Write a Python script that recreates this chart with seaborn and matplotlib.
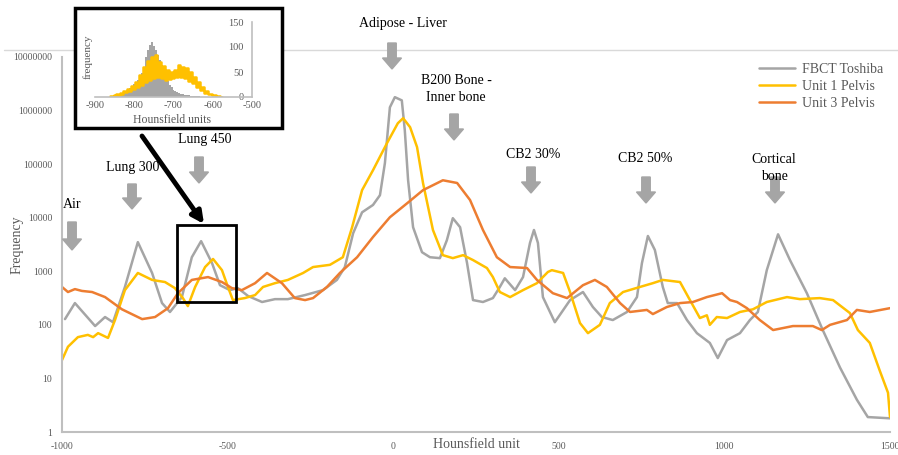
import matplotlib
matplotlib.use("Agg")
import matplotlib.pyplot as plt
import seaborn as sns
from matplotlib.patches import Rectangle, FancyArrow
from matplotlib.lines import Line2D

# main chart, HU vs frequency
gray_hu = [-991, -961, -900, -870, -846, -810, -771, -728, -698, -674, -638, -608, -580, -547,
           -523, -493, -469, -438, -396, -357, -318, -266, -212, -170, -146, -121, -94, -61, -40,
           -25, -10, 5, 26, 35, 45, 60, 87, 111, 141, 162, 180, 202, 223, 241, 271, 301, 322, 337,
           368, 392, 413, 425, 437, 452, 488, 534, 573, 603, 630, 663, 706, 736, 751, 769, 790,
           814, 829, 857, 887, 917, 956, 980, 1008, 1047, 1077, 1101, 1128, 1162, 1198, 1249,
           1297, 1349, 1400, 1433, 1500]
gray_freq = [128, 255, 95, 140, 112, 510, 3500, 930, 255, 174, 330, 1830, 3650, 1420, 550, 445,
             485, 345, 267, 302, 302, 360, 445, 690, 1200, 5130, 12600, 17300, 26300, 105000,
             1150000, 1780000, 1550000, 430000, 50000, 6650, 2270, 1830, 1760, 3800, 9800, 6650,
             1420, 290, 267, 316, 510, 740, 445, 780, 3380, 5900, 3380, 330, 112, 290, 410, 215,
             140, 123, 174, 330, 1420, 4560, 2500, 510, 255, 255, 123, 70, 46, 24, 52, 70, 123,
             174, 1050, 4900, 1620, 390, 80, 16, 4, 1.9, 1.8]

yel_hu = [-1000, -982, -952, -922, -906, -891, -861, -840, -810, -771, -728, -689, -659, -635,
          -620, -598, -568, -544, -517, -499, -484, -448, -417, -393, -357, -318, -272, -242, -191,
          -152, -124, -94, -61, -19, 14, 30, 51, 72, 90, 120, 150, 180, 211, 241, 283, 301, 322,
          353, 392, 434, 467, 479, 513, 534, 564, 588, 624, 654, 694, 745, 784, 814, 866, 896,
          926, 947, 956, 977, 1008, 1047, 1086, 1128, 1189, 1228, 1288, 1328, 1379, 1403, 1439,
          1469, 1494, 1500]
yel_freq = [22, 39, 59, 65, 59, 70, 57, 123, 445, 930, 690, 630, 485, 316, 224, 510, 1200, 1700,
            1050, 510, 290, 316, 360, 510, 600, 690, 930, 1200, 1320, 1830, 6650, 32700, 77000,
            245000, 580000, 720000, 490000, 208000, 44500, 5900, 2000, 1760, 2000, 1620, 1150,
            780, 410, 330, 445, 600, 970, 1050, 930, 410, 108, 70, 100, 255, 410, 510, 600, 690,
            630, 290, 134, 151, 100, 140, 134, 174, 195, 267, 330, 302, 316, 290, 166, 80, 46,
            14, 5.4, 1.9]

org_hu = [-1000, -982, -961, -940, -909, -870, -819, -758, -719, -680, -650, -608, -559, -517,
          -487, -457, -417, -381, -336, -297, -266, -242, -200, -161, -109, -61, -10, 42, 90, 150,
          193, 232, 271, 313, 353, 404, 434, 482, 525, 573, 609, 645, 685, 715, 766, 784, 826,
          866, 905, 947, 993, 1017, 1038, 1068, 1107, 1147, 1207, 1267, 1294, 1319, 1370, 1400,
          1439, 1500]
org_freq = [510, 410, 465, 430, 410, 330, 195, 128, 140, 205, 390, 690, 780, 630, 485, 445, 600,
            930, 600, 316, 290, 316, 510, 930, 1830, 4360, 10200, 18600, 32700, 50000, 44500,
            21400, 5900, 1830, 1200, 1150, 690, 390, 316, 550, 690, 510, 255, 174, 190, 159, 215,
            255, 267, 330, 390, 290, 267, 205, 123, 80, 95, 95, 80, 100, 123, 190, 174, 205]

series_names = ["FBCT Toshiba", "Unit 1 Pelvis", "Unit 3 Pelvis"]

# inset histogram (lung 450 region), 5 HU bins from -860 to -580
hist_hu = list(range(-860, -575, 5))
hist_gray = [0, 1, 2, 3, 4, 6, 8, 10, 12, 15, 18, 22, 26, 30, 34, 40, 48, 60, 80, 95, 105, 110,
             102, 95, 85, 75, 65, 52, 42, 32, 25, 20, 15, 12, 10, 8, 7, 6, 5, 4, 4, 3, 3, 2, 2, 2,
             1, 1, 1, 0, 0, 0, 0, 0, 0, 0, 0]
hist_yel = [2, 3, 4, 6, 5, 9, 7, 12, 10, 16, 13, 22, 16, 30, 20, 45, 25, 60, 30, 72, 35, 80, 38,
            85, 40, 70, 38, 62, 35, 55, 36, 50, 38, 55, 40, 65, 40, 60, 38, 58, 32, 50, 28, 40,
            20, 30, 14, 20, 9, 12, 6, 7, 4, 4, 3, 2, 1]

# labels over the peaks: text, text centre (px), arrow x, arrow top, arrow bottom (px)
peak_labels = [
    ("Air", 72, 205, 72, 222, 250),
    ("Lung 300", 133, 168, 132, 184, 209),
    ("Lung 450", 205, 139, 199, 157, 183),
    ("Adipose - Liver", 403, 24, 392, 43, 69),
    ("B200 Bone -\nInner bone", 456, 89, 454, 114, 140),
    ("CB2 30%", 533, 154, 531, 167, 193),
    ("CB2 50%", 645, 158, 646, 177, 203),
    ("Cortical\nbone", 774, 168, 775, 177, 203),
]

GRAY = "#a5a5a5"
YEL = "#ffc000"
ORG = "#ed7d31"
TXT = "#595959"

sns.set_style("white")
plt.rcParams["font.family"] = ["Liberation Serif", "DejaVu Serif"]
plt.rcParams["axes.unicode_minus"] = False

W, H = 898, 455
fig = plt.figure(figsize=(W / 100, H / 100), dpi=100)


def fx(px):
    return px / W


def fy(py):
    return 1 - py / H


# top grid line
fig.add_artist(Line2D([0.005, 1], [fy(50), fy(50)], transform=fig.transFigure,
                      color="#d9d9d9", lw=1, zorder=0.5))

ax = fig.add_axes([fx(62), fy(432), fx(890) - fx(62), fy(57) - fy(432)])
ax.patch.set_alpha(0)
sns.lineplot(x=gray_hu, y=gray_freq, color=GRAY, lw=1.8, ax=ax, label=series_names[0], sort=False)
sns.lineplot(x=yel_hu, y=yel_freq, color=YEL, lw=1.8, ax=ax, label=series_names[1], sort=False)
sns.lineplot(x=org_hu, y=org_freq, color=ORG, lw=1.8, ax=ax, label=series_names[2], sort=False)
ax.set_yscale("log")
ax.set_xlim(-1000, 1500)
ax.set_ylim(1, 1e7)
ax.set_yticks([10 ** k for k in range(8)])
ax.set_yticklabels([str(10 ** k) for k in range(8)])
ax.yaxis.set_minor_locator(matplotlib.ticker.NullLocator())
ax.set_xticks([-1000, -500, 0, 500, 1000, 1500])
ax.tick_params(length=0, labelsize=7, colors=TXT, pad=7)
ax.set_xlabel("")
ax.set_ylabel("")
for s in ["top", "right"]:
    ax.spines[s].set_visible(False)
for s in ["left", "bottom"]:
    ax.spines[s].set_color("#bfbfbf")
    ax.spines[s].set_linewidth(1.5)

ax.legend(loc="upper left", bbox_to_anchor=(fx(752), fy(56)), bbox_transform=fig.transFigure,
          frameon=False, fontsize=10, handlelength=2.6, labelspacing=0.3, handletextpad=0.5,
          labelcolor=TXT, borderpad=0)

fig.text(fx(476), fy(444), "Hounsfield unit", ha="center", va="center", fontsize=10, color=TXT)
fig.text(fx(17), fy(245), "Frequency", ha="center", va="center", rotation=90, fontsize=10, color=TXT)

# black box round the lung 450 peak + pointer arrow
ax.add_patch(Rectangle((-653, 270), 178, 7300 - 270, fill=False, edgecolor="black", lw=2, zorder=5))
ax.annotate("", xy=(fx(204), fy(224)), xytext=(fx(142), fy(136)), xycoords="figure fraction",
            textcoords="figure fraction",
            arrowprops=dict(arrowstyle="-|>,head_width=0.35,head_length=0.7", color="black",
                            lw=3.5, shrinkA=0, shrinkB=0))

for txt, tx, ty, axx, atop, abot in peak_labels:
    fig.text(fx(tx), fy(ty), txt, ha="center", va="center", fontsize=10, color="black",
             linespacing=1.35)
    fig.add_artist(FancyArrow(fx(axx), fy(atop), 0, fy(abot) - fy(atop), width=fx(8.5),
                              head_width=fx(19), head_length=11 / H, length_includes_head=True,
                              color=GRAY, transform=fig.transFigure))

# inset
fig.add_artist(Rectangle((fx(75), fy(128)), fx(282) - fx(75), fy(8) - fy(128),
                         transform=fig.transFigure, facecolor="white", edgecolor="black",
                         lw=2.5, zorder=2))
ax_in = fig.add_axes([fx(95), fy(97), fx(252) - fx(95), fy(22) - fy(97)])
ax_in.set_zorder(3)
ax_in.patch.set_alpha(0)
sns.histplot(x=hist_hu, weights=hist_gray, binwidth=5, binrange=(-862.5, -577.5), element="step",
             fill=True, color=GRAY, alpha=1, linewidth=0, ax=ax_in)
sns.histplot(x=hist_hu, weights=hist_yel, binwidth=5, binrange=(-862.5, -577.5), element="step",
             fill=False, color=YEL, linewidth=1.8, ax=ax_in)
ax_in.set_xlim(-900, -500)
ax_in.set_ylim(0, 150)
ax_in.set_xticks([-900, -800, -700, -600, -500])
ax_in.set_yticks([0, 50, 100, 150])
ax_in.set_xlabel("")
ax_in.set_ylabel("")
ax_in.tick_params(length=0, labelsize=7.5, colors=TXT)
ax_in.tick_params(axis="x", pad=3)
ax_in.tick_params(axis="y", pad=6)
ax_in.spines["left"].set_position(("data", -500))
for s in ["top", "right"]:
    ax_in.spines[s].set_visible(False)
for s in ["left", "bottom"]:
    ax_in.spines[s].set_color("#bfbfbf")
    ax_in.spines[s].set_linewidth(1.2)
fig.text(fx(88), fy(57), "frequency", ha="center", va="center", rotation=90, fontsize=8,
         color=TXT, zorder=4)
fig.text(fx(172), fy(120), "Hounsfield units", ha="center", va="center", fontsize=8.5,
         color=TXT, zorder=4)

fig.savefig("out.png", dpi=100)
